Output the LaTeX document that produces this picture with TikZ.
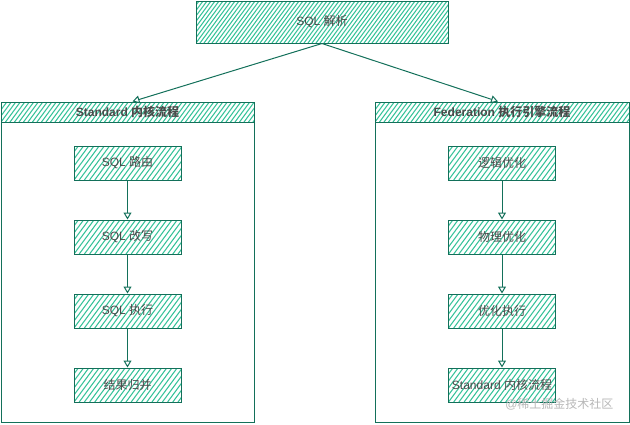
\documentclass[tikz,border=0pt]{standalone}
\usepackage{fontspec}
\setmainfont{Liberation Sans}
\newfontfamily\cjk{Noto Sans CJK SC}
\usetikzlibrary{arrows.meta,calc}
\definecolor{edgec}{HTML}{13705A}
\definecolor{hatchc}{HTML}{35C299}
\definecolor{txtc}{HTML}{4A4A4A}
\tikzset{
  hatched/.style={path picture={
    \foreach \k in {-14,...,70}{
      \draw[hatchc,line width=1.05pt]
        ([xshift=\k*#1]path picture bounding box.south west) -- ++(34pt,46pt);}}},
  hatched/.default=5pt,
  lbl/.style={text=txtc,font=\fontsize{12}{14}\selectfont},
  stepbox/.style={draw=edgec,line width=1pt,hatched=5.2pt,minimum width=107pt,
    minimum height=34pt,inner sep=0pt,lbl},
  topbox/.style={draw=edgec,line width=1pt,hatched=4pt,minimum width=252pt,
    minimum height=42pt,inner sep=0pt,lbl},
  container/.style={draw=edgec,line width=1pt,fill=white,minimum width=253pt,
    minimum height=320pt,inner sep=0pt},
  header/.style={draw=edgec,line width=1pt,hatched=4.5pt,minimum width=253pt,
    minimum height=20pt,inner sep=0pt,text=txtc,
    font=\fontsize{12}{14}\selectfont\bfseries},
  conn/.style={draw=edgec,line width=1pt,
    -{Triangle[open,length=7pt,width=8pt,line width=1pt]}},
}
\begin{document}
\begin{tikzpicture}[x=1pt,y=-1pt]
\useasboundingbox (0,0) rectangle (630,424);
% top
\node[topbox] (parse) at (322,22) {SQL {\cjk 解析}};
% left container
\node[container] (lc) at (127.5,262) {};
\node[header] (lh) at (127.5,112) {Standard {\cjk\bfseries 内核流程}};
\node[stepbox] (l1) at (127.5,163) {SQL {\cjk 路由}};
\node[stepbox] (l2) at (127.5,237) {SQL {\cjk 改写}};
\node[stepbox] (l3) at (127.5,311) {SQL {\cjk 执行}};
\node[stepbox] (l4) at (127.5,385) {{\cjk 结果归并}};
% right container
\node[container,minimum width=254pt] (rc) at (502,262) {};
\node[header,minimum width=254pt] (rh) at (502,112) {Federation {\cjk\bfseries 执行引擎流程}};
\node[stepbox] (r1) at (502,163) {{\cjk 逻辑优化}};
\node[stepbox] (r2) at (502,237) {{\cjk 物理优化}};
\node[stepbox] (r3) at (502,311) {{\cjk 优化执行}};
\node[stepbox] (r4) at (502,385) {Standard {\cjk 内核流程}};
% connectors
\draw[conn] (parse.south) -- ([xshift=5pt]lh.north);
\draw[conn] (parse.south) -- ([xshift=-4pt]rh.north);
\draw[conn] (l1) -- (l2);
\draw[conn] (l2) -- (l3);
\draw[conn] (l3) -- (l4);
\draw[conn] (r1) -- (r2);
\draw[conn] (r2) -- (r3);
\draw[conn] (r3) -- (r4);
% watermark
\node[text=black!28,font=\fontsize{12}{14}\selectfont,anchor=east] (wm) at (617,404) {@{\cjk 稀土掘金技术社区}};
\end{tikzpicture}
\end{document}
